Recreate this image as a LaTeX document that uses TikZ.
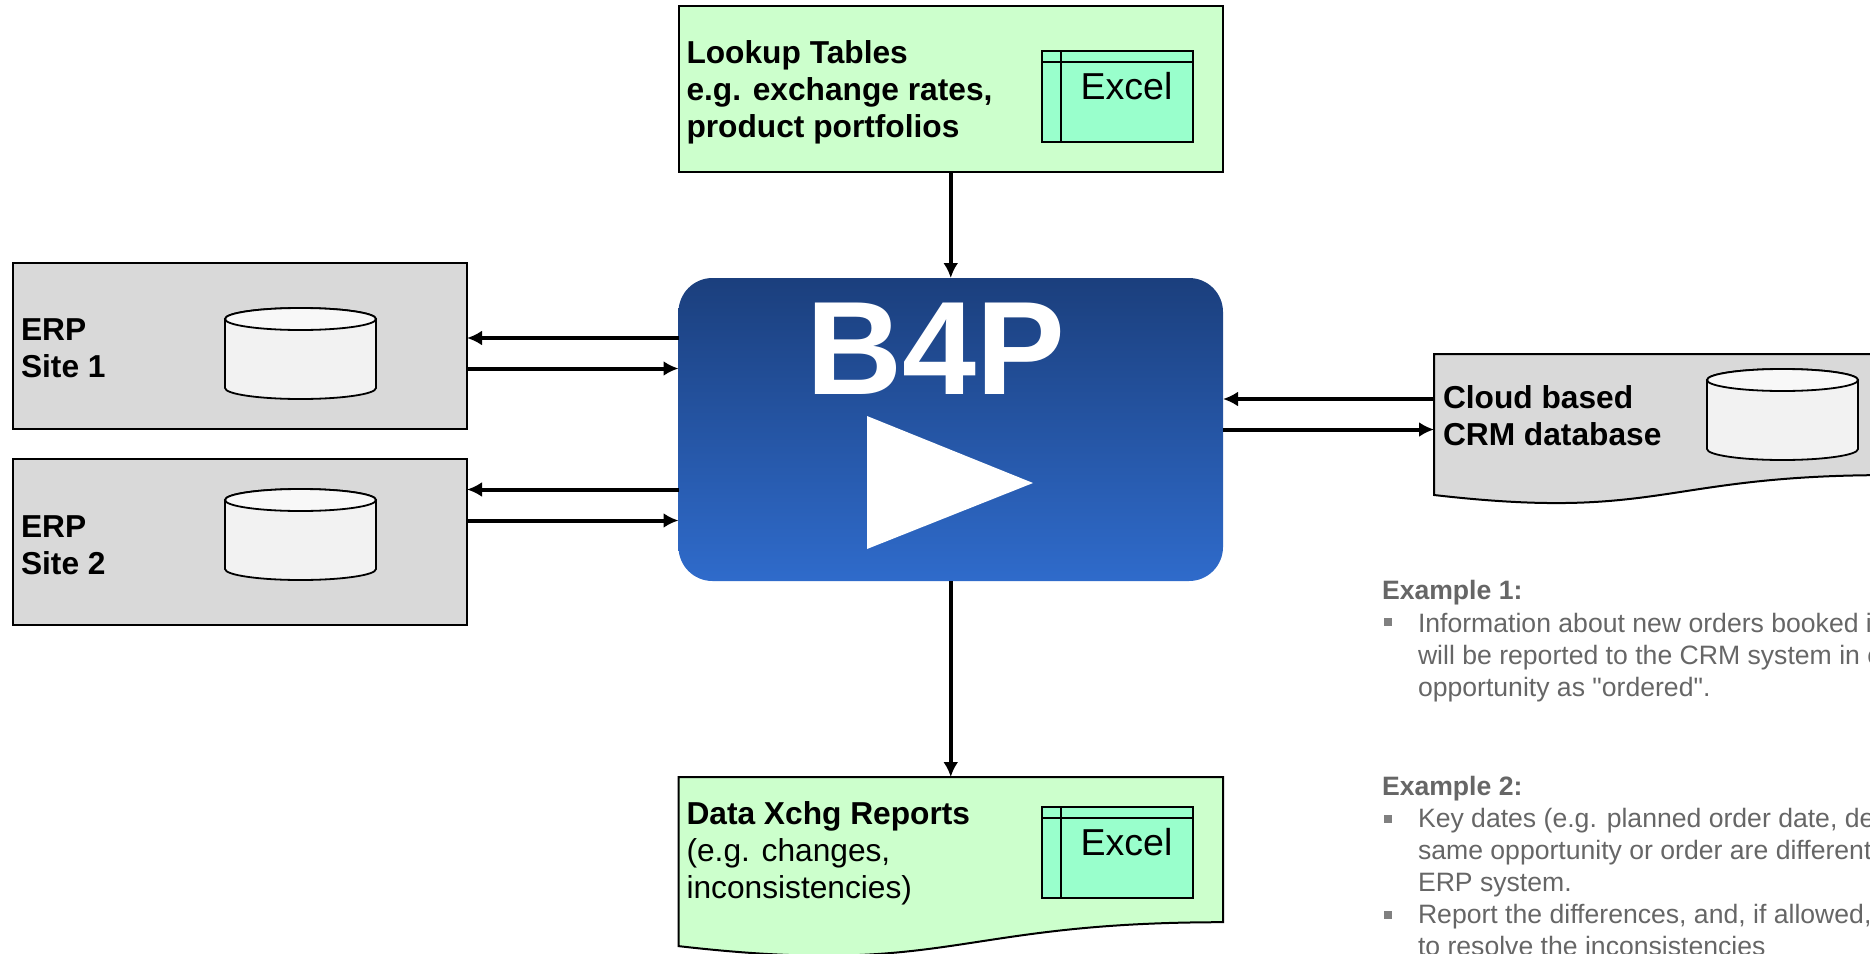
\documentclass[tikz,border=0pt]{standalone}
\usepackage{fontspec}
\setmainfont{Liberation Sans}
\newfontfamily\notefont{Liberation Sans}
\usetikzlibrary{arrows.meta,positioning,calc}

\begin{document}
\begin{tikzpicture}
  [x=1pt,y=-1pt,line cap=butt,outer sep=0pt,
  % Styles
  box line/.style={draw=black,line width=2pt},
  site box/.style={box line,fill=sitegray,minimum width=454pt,minimum height=165.5pt,anchor=north west,inner sep=0pt},
  table box/.style={box line,fill=lookupgreen,minimum width=544.5pt,minimum height=165.5pt,anchor=north west,inner sep=0pt},
  ghost box/.style={minimum width=#1,inner sep=0pt,anchor=north west},
  excel box/.style={box line,fill=excelgreen,minimum width=151.5pt,minimum height=90.5pt,anchor=north west,inner sep=0pt},
  db store/.style={ghost box=151pt,minimum height=91pt},
  db line/.style={draw=black,line width=1.8pt},
  link/.style={line width=4pt,-{Latex[length=15pt,width=15pt]}},
  big label/.style={font=\fontsize{31.7}{37}\selectfont,align=left,inner sep=0pt,anchor=base west},
  big bold/.style={big label,font=\bfseries\fontsize{31.7}{37}\selectfont},
  note label/.style={font=\notefont\fontsize{26.6}{32}\selectfont,align=left,inner sep=0pt,anchor=base west,text=notegray},
  note title/.style={note label,font=\notefont\bfseries\fontsize{26.6}{32}\selectfont},
  note bullet/.style={fill=bulletgray,minimum size=8pt,inner sep=0pt}]
  % Colors
  \colorlet{sitegray}{black!15}
  \definecolor{lookupgreen}{HTML}{CCFFCC}
  \definecolor{excelgreen}{HTML}{99FFCC}
  \definecolor{dbbody}{HTML}{F2F2F2}
  \definecolor{dbtop}{HTML}{F8F8F8}
  \definecolor{b4ptop}{HTML}{1B3F7D}
  \definecolor{b4pbottom}{HTML}{2F6BCB}
  \definecolor{notegray}{HTML}{666666}
  \definecolor{bulletgray}{HTML}{808080}
  % The page
  \path[use as bounding box,clip] (0,0) rectangle (1870,953);
  % The engine
  \node (b4p) [rounded corners=34pt,top color=b4ptop,bottom color=b4pbottom,minimum width=544.5pt,minimum height=303pt,
    anchor=north west,inner sep=0pt] at (678.5,278) {};
  \node (b4p name) [font=\bfseries\fontsize{133}{133}\selectfont,text=white,inner sep=0pt,anchor=base] at (936,394) {B4P};
  \fill[white] (867,416) -- (1033,483) -- (867,549) -- cycle;
  % The sources
  \node (lookup) [table box] at (678.5,6) {};
  \node (erp one) [site box] at (13,263) {};
  \node (erp two) [site box] at (13,459) {};
  \filldraw[box line,fill=lookupgreen] (678.5,777) -- (1223,777) -- (1223,922.2)
    .. controls (951,922.2) and (951,977.4) .. (678.5,946.1) -- cycle;
  \node (report) [ghost box=544.5pt,minimum height=181pt] at (678.5,777) {};
  \filldraw[box line,fill=sitegray] (1434,354) -- (1888,354) -- (1888,475.1)
    .. controls (1661,475.1) and (1661,521.2) .. (1434,495) -- cycle;
  \node (crm) [ghost box=454pt,minimum height=151pt] at (1434,354) {};
  % The stores
  \foreach \name/\xpos/\ypos in {erp one db/225/308, erp two db/225/489, crm db/1707/369}
  {
    \node (\name) [db store] at (\xpos,\ypos) {};
    \filldraw[db line,fill=dbbody] ([yshift=-11pt]\name.north west) -- ([yshift=11pt]\name.south west)
      arc[start angle=180,end angle=360,x radius=75.5pt,y radius=11pt] -- ([yshift=-11pt]\name.north east)
      arc[start angle=0,end angle=180,x radius=75.5pt,y radius=11pt] -- cycle;
    \filldraw[db line,fill=dbtop] ([yshift=-11pt]\name.north) ellipse[x radius=75.5pt,y radius=11pt];
  }
  \foreach \name/\ypos in {lookup xl/51, report xl/807}
  {
    \node (\name) [excel box] at (1041.5,\ypos) {};
    \draw[line width=1.6pt] ([yshift=-11pt]\name.north west) -- ([yshift=-11pt]\name.north east);
    \draw[line width=1.6pt] ([xshift=19.5pt]\name.north west) -- ([xshift=19.5pt]\name.south west);
    \node (\name\space text) [font=\fontsize{37.5}{37.5}\selectfont,inner sep=0pt,anchor=base] at (1126.5,\ypos+48) {Excel};
  }
  % The labels
  \node (lookup label) [big bold] at (686.5,137) {Lookup Tables\\e.g. exchange rates,\\product portfolios};
  \node (report label) [big label] at (686.5,898) {\textbf{Data Xchg Reports}\\(e.g. changes,\\inconsistencies)};
  \node (erp one label) [big bold] at (21,377) {ERP\\Site 1};
  \node (erp two label) [big bold] at (21,574) {ERP\\Site 2};
  \node (crm label) [big bold] at (1443,445) {Cloud based\\CRM database};
  % The connectors
  \draw[link] (lookup.south) -- (b4p.north);
  \draw[link] (b4p.south) -- (report.north);
  \draw[link] ([yshift=7.75pt]erp one.east -| b4p.west) -- ([yshift=7.75pt]erp one.east);
  \draw[link] ([yshift=-22.75pt]erp one.east) -- ([yshift=-22.75pt]erp one.east -| b4p.west);
  \draw[link] ([yshift=52.25pt]erp two.east -| b4p.west) -- ([yshift=52.25pt]erp two.east);
  \draw[link] ([yshift=21.25pt]erp two.east) -- ([yshift=21.25pt]erp two.east -| b4p.west);
  \draw[link] ([yshift=30.5pt]crm.west) -- ([yshift=30.5pt]crm.west -| b4p.east);
  \draw[link] ([yshift=0pt]crm.west -| b4p.east) -- ([yshift=0pt]crm.west);
  % The notes
  \node (example one) [note title] at (1382,599) {Example 1:};
  \node (example one text) [note label] at (1418,696)
    {Information about new orders booked i\\will be reported to the CRM system in c\\opportunity as "ordered".};
  \node (example two) [note title] at (1382,795) {Example 2:};
  \node (example two text) [note label] at (1418,955)
    {Key dates (e.g. planned order date, de\\same opportunity or order are different\\ERP system.\\Report the differences, and, if allowed,\\to resolve the inconsistencies};
  \foreach \name/\ypos in {bullet one/622, bullet two/819, bullet three/915}
    \node (\name) [note bullet] at (1388,\ypos) {};
\end{tikzpicture}
\end{document}
